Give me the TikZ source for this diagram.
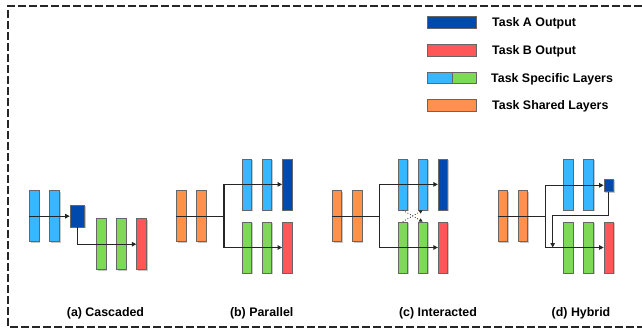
\documentclass[tikz,border=0pt]{standalone}
\usepackage{fontspec}
\setmainfont{Liberation Sans}
\usetikzlibrary{arrows.meta,shadows}

% palette
\definecolor{lblue}{HTML}{38B6FF}
\definecolor{dblue}{HTML}{004AAD}
\definecolor{lgreen}{HTML}{7ED957}
\definecolor{lred}{HTML}{FF5757}
\definecolor{lorange}{HTML}{FF914D}
\definecolor{ink}{HTML}{262626}

\begin{document}
\begin{tikzpicture}[x=1pt,y=-1pt,
  layer/.style={rectangle, inner sep=0pt, minimum width=9.6pt, minimum height=51pt,
    draw=black!60, line width=0.7pt,
    drop shadow={shadow xshift=1.3pt, shadow yshift=-1.1pt, opacity=0.22, fill=black}},
  outbox/.style={layer},
  swatch/.style={rectangle, inner sep=0pt, minimum height=11.3pt, draw=black!60, line width=0.7pt},
  conn/.style={draw=ink, line width=1.1pt},
  tip/.style={-{Triangle[length=4.5pt,width=4.5pt]}},
  cross/.style={draw=ink, line width=0.8pt, dotted, -{Triangle[length=3.5pt,width=3.5pt]}},
  label/.style={font=\fontsize{12.4}{14}\bfseries\selectfont, text=black, inner sep=0pt},
  legtext/.style={label, anchor=base west},
  caption/.style={label, anchor=base}]

\useasboundingbox (0,0) rectangle (642,331);

% dashed frame (open on the right)
\draw[ink, line width=1.6pt, dash pattern=on 8pt off 3pt]
  (642,6) -- (8,6) -- (8,327) -- (642,327);

% ---------- legend ----------
\node[swatch, minimum width=48.6pt, fill=dblue] (legA) at (452,22.4) {};
\node[swatch, minimum width=48.6pt, fill=lred] (legB) at (452,50.3) {};
\node[swatch, minimum width=24.6pt, fill=lblue] (legS1) at (440,77.8) {};
\node[swatch, minimum width=24pt, fill=lgreen] (legS2) at (464.3,77.8) {};
\node[swatch, minimum width=48.6pt, fill=lorange] (legO) at (452,105.5) {};
\node[legtext] (tA) at (492,27) {Task A Output};
\node[legtext] (tB) at (492,54.3) {Task B Output};
\node[legtext] (tS) at (491,82.2) {Task Specific Layers};
\node[legtext] (tO) at (492,109.8) {Task Shared Layers};

% ---------- (a) cascaded ----------
\node[layer, fill=lblue] (ab1) at (34.2,216.2) {};
\node[layer, fill=lblue] (ab2) at (54.5,216.2) {};
\node[outbox, fill=dblue, minimum width=14.3pt, minimum height=21.7pt] (aout) at (77.2,216.2) {};
\node[layer, fill=lgreen] (ag1) at (101.2,244.2) {};
\node[layer, fill=lgreen] (ag2) at (121.2,244.2) {};
\node[layer, fill=lred] (ared) at (141.5,244.2) {};
\draw[conn, tip] (ab1.west) -- (aout.west);
\draw[conn, tip] (aout.south) |- (ared.west);

% ---------- (b) parallel ----------
\node[layer, fill=lorange] (bo1) at (181.2,216.2) {};
\node[layer, fill=lorange] (bo2) at (201.3,216.2) {};
\node[layer, fill=lblue] (bb1) at (246.8,184.4) {};
\node[layer, fill=lblue] (bb2) at (266.8,184.4) {};
\node[layer, fill=dblue] (bA) at (287.2,184.4) {};
\node[layer, fill=lgreen] (bg1) at (246.8,247.5) {};
\node[layer, fill=lgreen] (bg2) at (266.8,247.5) {};
\node[layer, fill=lred] (bB) at (287.2,247.5) {};
\coordinate (bsplit) at (224,216.2);
\draw[conn] (bo1.west) -- (bsplit);
\draw[conn, tip] (bsplit) |- (bA.west);
\draw[conn, tip] (bsplit) |- (bB.west);

% ---------- (c) interacted ----------
\node[layer, fill=lorange] (co1) at (337,216.2) {};
\node[layer, fill=lorange] (co2) at (357.1,216.2) {};
\node[layer, fill=lblue] (cb1) at (402.7,184.4) {};
\node[layer, fill=lblue] (cb2) at (422.7,184.4) {};
\node[layer, fill=dblue] (cA) at (443,184.4) {};
\node[layer, fill=lgreen] (cg1) at (402.7,247.5) {};
\node[layer, fill=lgreen] (cg2) at (422.7,247.5) {};
\node[layer, fill=lred] (cB) at (443,247.5) {};
\coordinate (csplit) at (379.7,216.2);
\draw[conn] (co1.west) -- (csplit);
\draw[conn, tip] (csplit) |- (cA.west);
\draw[conn, tip] (csplit) |- (cB.west);
\draw[cross] (cb1.south) -- (cg2.north);
\draw[cross] (cg1.north) -- (cb2.south);

% ---------- (d) hybrid ----------
\node[layer, fill=lorange] (do1) at (502.8,216.2) {};
\node[layer, fill=lorange] (do2) at (523,216.2) {};
\node[layer, fill=lblue] (db1) at (568.2,184.4) {};
\node[layer, fill=lblue] (db2) at (588.5,184.4) {};
\node[outbox, fill=dblue, minimum width=9.7pt, minimum height=12.7pt] (dA) at (608.8,185.3) {};
\node[layer, fill=lgreen] (dg1) at (568.2,247.5) {};
\node[layer, fill=lgreen] (dg2) at (588.5,247.5) {};
\node[layer, fill=lred] (dB) at (608.8,247.5) {};
\coordinate (dsplit) at (545.7,216.2);
\coordinate (dturn) at (552.7,215.3);
\coordinate (dmerge) at (552.7,247.5);
\draw[conn] (do1.west) -- (dsplit);
\draw[conn, tip] (dsplit) |- (dA.west);
\draw[conn, tip] (dsplit) |- (dB.west);
\draw[conn, tip] (dA.south) |- (dturn) -- (dmerge);

% ---------- captions ----------
\node[caption] (capa) at (105.5,316.7) {(a) Cascaded};
\node[caption] (capb) at (261.7,316.7) {(b) Parallel};
\node[caption] (capc) at (438,316.7) {(c) Interacted};
\node[caption] (capd) at (581,316.7) {(d) Hybrid};

\end{tikzpicture}
\end{document}
